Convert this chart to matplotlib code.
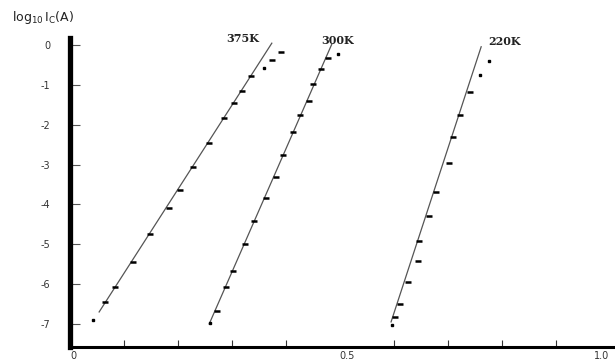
import matplotlib
matplotlib.use("Agg")
import matplotlib.pyplot as plt
import numpy as np

# dados (V_BE em V, log10 Ic)
temps = ["375K", "300K", "220K"]

x_375 = [0.065, 0.083, 0.117, 0.148, 0.184, 0.204, 0.228, 0.257, 0.286, 0.304, 0.319, 0.336, 0.375, 0.391]
y_375 = [-6.46, -6.08, -5.44, -4.74, -4.10, -3.64, -3.07, -2.45, -1.83, -1.45, -1.15, -0.77, -0.38, -0.18]
xd_375 = [0.043, 0.360]
yd_375 = [-6.90, -0.57]
fit_x_375 = [0.054, 0.374]
fit_y_375 = [-6.70, 0.05]

x_300 = [0.272, 0.289, 0.302, 0.324, 0.341, 0.363, 0.381, 0.395, 0.414, 0.427, 0.442, 0.451, 0.466, 0.478]
y_300 = [-6.67, -6.08, -5.66, -5.00, -4.42, -3.85, -3.30, -2.76, -2.17, -1.76, -1.40, -0.98, -0.61, -0.31]
xd_300 = [0.260, 0.497]
yd_300 = [-6.97, -0.23]
fit_x_300 = [0.258, 0.485]
fit_y_300 = [-7.00, 0.02]

x_220 = [0.603, 0.612, 0.627, 0.644, 0.647, 0.665, 0.679, 0.702, 0.710, 0.722, 0.741]
y_220 = [-6.83, -6.51, -5.96, -5.42, -4.92, -4.28, -3.68, -2.97, -2.30, -1.76, -1.17]
xd_220 = [0.597, 0.760, 0.776]
yd_220 = [-7.02, -0.75, -0.39]
fit_x_220 = [0.595, 0.762]
fit_y_220 = [-6.95, -0.04]

label_x = [0.320, 0.495, 0.805]
label_y = [0.17, 0.12, 0.10]

yticks = [0, -1, -2, -3, -4, -5, -6, -7]
xticks_lab = [0, 0.5, 1.0]
xticks_minor = [0.1, 0.2, 0.3, 0.4, 0.6, 0.7, 0.8, 0.9, 1.0]

fig = plt.figure(figsize=(6.15, 3.6), dpi=100)
ax = fig.add_axes([70/615, 13/360, 545/615, 309/360])

series = [
    (x_375, y_375, xd_375, yd_375, fit_x_375, fit_y_375),
    (x_300, y_300, xd_300, yd_300, fit_x_300, fit_y_300),
    (x_220, y_220, xd_220, yd_220, fit_x_220, fit_y_220),
]
for xs, ys, xd, yd, fx, fy in series:
    ax.plot(fx, fy, color='#555555', lw=0.9)
    ax.plot(xs, ys, ls='none', marker='_', ms=5, mew=1.8, color='black')
    ax.plot(xd, yd, ls='none', marker='s', ms=2, color='black')

for t, lx, ly in zip(temps, label_x, label_y):
    ax.text(lx, ly, t, ha='center', va='center', fontsize=8, fontweight='bold',
            family='DejaVu Serif', color='#222222')

ax.set_xlim(0, 1.01)
ax.set_ylim(-7.58, 0.18)

ax.spines['top'].set_visible(False)
ax.spines['right'].set_visible(False)
ax.spines['left'].set_linewidth(3.8)
ax.spines['bottom'].set_linewidth(2.2)

ax.set_yticks(yticks)
ax.set_yticklabels([str(v) for v in yticks])
ax.tick_params(axis='y', direction='in', length=7, width=0.8, color='#555555',
               labelsize=7, labelcolor='#333333', pad=14)

ax.set_xticks(xticks_lab)
ax.set_xticklabels(['0', '0.5', '1.0'])
ax.set_xticks(xticks_minor, minor=True)
ax.tick_params(axis='x', which='major', direction='in', length=0, labelsize=7,
               labelcolor='#333333', pad=3)
ax.tick_params(axis='x', which='minor', direction='in', length=5, width=0.8, color='#333333')
xlabs = ax.get_xticklabels()
xlabs[0].set_horizontalalignment('left')
xlabs[1].set_horizontalalignment('left')
xlabs[2].set_horizontalalignment('right')

fig.text(12/615, 1 - 17/360, r'$\mathregular{log_{10}\,I_C}$(A)', fontsize=9,
         color='#222222', va='center', ha='left')

fig.savefig('out.png', dpi=100)
